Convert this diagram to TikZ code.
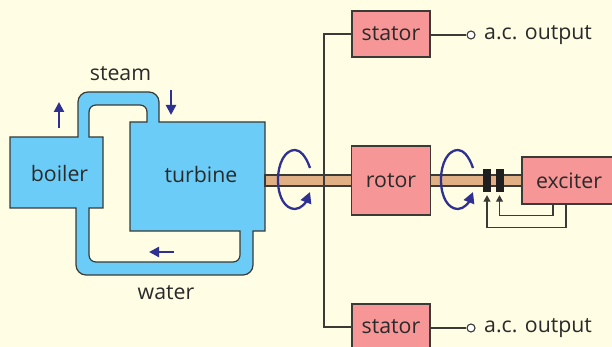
\documentclass[tikz,border=0pt]{standalone}
\usepackage{fontspec}
\setmainfont{Open Sans}
\definecolor{bg}{HTML}{FFFDE3}
\definecolor{blueb}{HTML}{6BCDF7}
\definecolor{pinkb}{HTML}{F79696}
\definecolor{shaftc}{HTML}{E0B084}
\definecolor{linec}{HTML}{3A3A36}
\definecolor{arr}{HTML}{2E3192}
\definecolor{txt}{HTML}{2A2A2A}
\usetikzlibrary{arrows.meta}
\tikzset{
  pinkbox/.style={draw=linec,line width=1.2pt,fill=pinkb,minimum width=0pt,inner sep=0pt},
  lab/.style={font=\fontsize{21.3}{25}\selectfont,text=txt,inner sep=0pt},
  wire/.style={draw=linec,line width=1.1pt},
  flow/.style={draw=arr,line width=2.3pt,-{Triangle[length=10pt,width=10pt]}},
  spin/.style={draw=arr,line width=2.3pt,-{Triangle[length=11pt,width=11pt]}},
  brush/.style={fill=black!88,draw=none,inner sep=0pt,minimum width=8pt,minimum height=23pt},
  term/.style={circle,draw=linec,line width=1.1pt,fill=white,inner sep=0pt,minimum size=8pt}
}
\begin{document}
\begin{tikzpicture}[x=1pt,y=-1pt]
\useasboundingbox[fill=bg] (0,0) rectangle (612,347);
% boiler, pipes and turbine as one body
\path[draw=linec,line width=1.2pt,fill=blueb,even odd rule]
  (10,137) -- (78,137) -- (78,102) .. controls (78,96.5) and (82.5,92) .. (88,92) -- (149,92)
  .. controls (154.5,92) and (159,96.5) .. (159,102) -- (159,122) -- (265,122) -- (265,231) -- (253,231)
  -- (253,265) .. controls (253,270.5) and (248.5,275) .. (243,275) -- (86,275)
  .. controls (80.5,275) and (76,270.5) .. (76,265) -- (76,208) -- (10,208) -- cycle
  (89,137) -- (89,112) .. controls (89,108) and (92,105) .. (96,105) -- (140,105)
  .. controls (144,105) and (147,108) .. (147,112) -- (147,122) -- (130,122) -- (130,231) -- (240,231)
  -- (240,255) .. controls (240,259) and (237,262) .. (233,262) -- (96,262)
  .. controls (92,262) and (89,259) .. (89,255) -- (89,208) -- (103,208) -- (103,137) -- cycle;
\node[lab] (boiler) at (59.5,173.5) {boiler};
\node[lab] (turbine) at (201,174.5) {turbine};
\node[lab] (steam) at (120.5,73.5) {steam};
\node[lab] (water) at (166,292.5) {water};
% shaft
\path[draw=linec,line width=1.1pt,fill=shaftc] (265,175) rectangle (524,186);
% boxes
\node[pinkbox,minimum width=78pt,minimum height=46pt] (stator1) at (391,34) {};
\node[lab] at (stator1.center) {stator};
\node[pinkbox,minimum width=79pt,minimum height=69pt] (rotor) at (391,180.5) {};
\node[lab] at (rotor.center) {rotor};
\node[pinkbox,minimum width=78pt,minimum height=46pt] (stator2) at (391,327) {};
\node[lab] at (stator2.center) {stator};
\node[pinkbox,minimum width=96pt,minimum height=47pt] (exciter) at (570,180.5) {};
\node[lab] (exlab) at (569,180.5) {exciter};
% bus line
\coordinate (bus) at (324,180);
\draw[wire] (stator1.west) -| (bus) |- (stator2.west);
% outputs
\node[term] (o1) at (471,35) {};
\node[term] (o2) at (471,328) {};
\draw[wire] (stator1.east |- o1) -- (o1);
\draw[wire] (stator2.east |- o2) -- (o2);
\node[lab,anchor=west] (out1) at (484,35.5) {a.c. output};
\node[lab,anchor=west] (out2) at (484,328.5) {a.c. output};
% brushes
\node[brush] (b1) at (487,180.5) {};
\node[brush] (b2) at (499.5,180.5) {};
\coordinate (ex1) at (553,204);
\coordinate (ex2) at (566,204);
\draw[wire,-{Triangle[length=6.5pt,width=7pt]}] (ex1) -- (553,215.5) -| ([yshift=-3pt]b2.south);
\draw[wire,-{Triangle[length=6.5pt,width=7pt]}] (ex2) -- (566,227.5) -| ([yshift=-3pt]b1.south);
% flow arrows
\draw[flow] (59,128) -- (59,102);
\draw[flow] (171,90) -- (171,115);
\draw[flow] (174,252) -- (149,252);
% rotation arrows
\draw[spin] (310,168) .. controls (306,156) and (300,150) .. (295,150)
  .. controls (285,150) and (278,163) .. (278,180)
  .. controls (278,197) and (285,209) .. (295,209)
  .. controls (301,209) and (306,202) .. (310,192);
\draw[spin] (473,168) .. controls (469,156) and (463,150) .. (458,150)
  .. controls (448,150) and (441,163) .. (441,180)
  .. controls (441,197) and (448,209) .. (458,209)
  .. controls (464,209) and (469,202) .. (473,192);
\end{tikzpicture}
\end{document}
